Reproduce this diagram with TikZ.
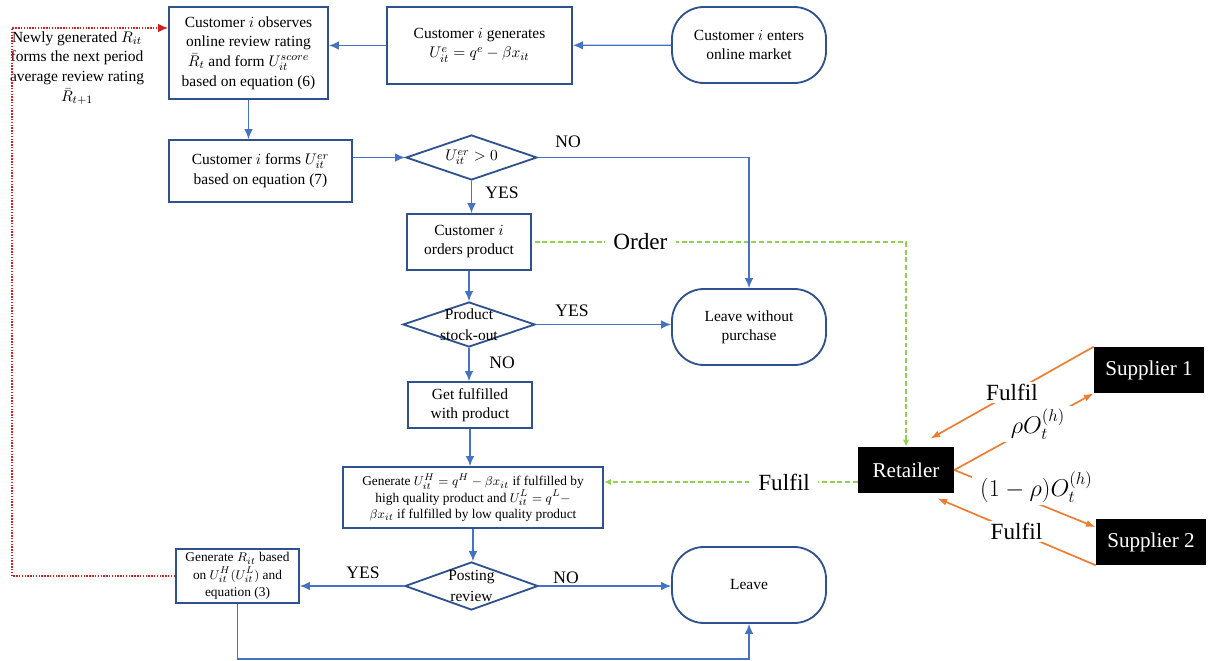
\documentclass[tikz,border=0pt]{standalone}
\usepackage{amsmath}
\usepackage{fontspec}
\setmainfont{Liberation Serif}
\usepackage{xcolor}
\usepackage{tikz}
\usetikzlibrary{positioning,calc,shapes.geometric}
\usetikzlibrary{arrows.meta}

\definecolor{lineblue}{HTML}{4472C4}
\definecolor{boxblue}{HTML}{2F528F}
\definecolor{ordergreen}{HTML}{92D050}
\definecolor{fulfilorange}{HTML}{ED7D31}
\definecolor{loopred}{HTML}{D02020}

\begin{document}
\begin{tikzpicture}[x=0.025cm,y=-0.025cm,
        every node/.style={align=center,font=\fontsize{11}{13.5}\selectfont},
        procbox/.style={rectangle,draw=boxblue,line width=1.3pt,inner sep=1pt},
        termbox/.style={rectangle,draw=boxblue,line width=1.3pt,rounded corners=0.8cm,minimum width=3.85cm,minimum height=1.9cm},
        decision/.style={diamond,draw=boxblue,line width=1.3pt,inner sep=0pt},
        decisiontext/.style={font=\fontsize{11}{15}\selectfont},
        blackbox/.style={rectangle,fill=black,text=white,font=\fontsize{15}{18}\selectfont,minimum height=1.15cm,minimum width=2.75cm},
        answer/.style={font=\fontsize{12.5}{15}\selectfont},
        biglabel/.style={fill=white,inner xsep=6pt,inner ysep=1.5pt,font=\fontsize{16.5}{20}\selectfont},
        flow/.style={draw=lineblue,line width=0.9pt,-{Latex[length=7pt,width=6pt]}},
        orderline/.style={draw=ordergreen,line width=1pt,dash pattern=on 3.5pt off 2pt,-{Latex[length=5pt,width=4.5pt]}},
        supplyline/.style={draw=fulfilorange,line width=1.2pt,-{Latex[length=7pt,width=5pt]}},
        feedbackline/.style={draw=loopred,line width=1pt,densely dotted,-{Latex[length=7pt,width=6pt]}}]
    \useasboundingbox (0,0) rectangle (1208,661);

    % customer side
    \node[termbox] (enter) at (749,45) {Customer $i$ enters\\online market};
    \node[procbox,minimum width=4.625cm,minimum height=1.925cm] (generate) at (479.5,45.5) {Customer $i$ generates\\$U_{it}^{e}=q^{e}-\beta x_{it}$};
    \node[procbox,minimum width=3.975cm,minimum height=2.3cm,font=\fontsize{11}{14}\selectfont] (observe) at (248.5,53) {Customer $i$ observes\\online review rating\\$\bar{R}_t$ and form $U_{it}^{score}$\\based on equation (6)};
    \node[font=\fontsize{11}{14}\selectfont] (newly) at (77,68) {Newly generated $R_{it}$\\forms the next period\\average review rating\\$\bar{R}_{t+1}$};
    \node[procbox,minimum width=4.575cm,minimum height=1.55cm,font=\fontsize{11}{14.5}\selectfont] (forms) at (260.5,171) {Customer $i$ forms $U_{it}^{er}$\\based on equation (7)};
    \node[decision,minimum width=3.275cm,minimum height=1.125cm,label={[decisiontext]center:$U_{it}^{er}>0$}] (check) at (471.5,157.5) {};
    \node[procbox,minimum width=3.1cm,minimum height=1.4cm] (orders) at (469,242) {Customer $i$\\orders product};
    \node[decision,minimum width=3.3cm,minimum height=1.125cm,label={[decisiontext]center:Product\\stock-out}] (stockout) at (469,324.5) {};
    \node[termbox] (leavewo) at (749,327) {Leave without\\purchase};
    \node[procbox,minimum width=3.1cm,minimum height=1.15cm] (fulfilled) at (470,405) {Get fulfilled\\with product};
    \node[procbox,minimum width=6.5cm,minimum height=1.525cm,font=\fontsize{9.5}{11.5}\selectfont] (utility) at (473,497.5) {Generate $U_{it}^{H}=q^{H}-\beta x_{it}$ if\ fulfilled by\\high quality product and $U_{it}^{L}=q^{L}-$\\$\beta x_{it}$ if fulfilled by low quality product};
    \node[decision,minimum width=3.325cm,minimum height=1.2cm,label={[decisiontext]center:Posting\\review}] (posting) at (471.5,586) {};
    \node[procbox,minimum width=3.075cm,minimum height=1.35cm,font=\fontsize{9.5}{12.3}\selectfont] (rating) at (237.5,576) {Generate $R_{it}$ based\\on $U_{it}^{H}(U_{it}^{L})$ and\\equation (3)};
    \node[termbox] (leave) at (749,585) {Leave};

    % supply side
    \node[blackbox,minimum width=2.4cm] (retailer) at (906,470) {Retailer};
    \node[blackbox] (supplier1) at (1149,370) {Supplier 1};
    \node[blackbox] (supplier2) at (1151,542) {Supplier 2};

    \node[answer] (nocheck) at (568,142) {NO};
    \node[answer] (yescheck) at (502,193) {YES};
    \node[answer] (yesstock) at (572,311) {YES};
    \node[answer] (nostock) at (502,363) {NO};
    \node[answer] (yespost) at (363,573) {YES};
    \node[answer] (nopost) at (566,578) {NO};

    \draw[flow] (enter) -- (generate);
    \draw[flow] (generate.west) -- (generate.west -| observe.east);
    \draw[flow] (observe.south) -- (observe.south |- forms.north);
    \draw[flow] (forms.east |- check.west) -- (check.west);
    \draw[flow] (check.east) -- (check.east -| leavewo.north) -- (leavewo.north);
    \draw[flow] (check.south) -- (check.south |- orders.north);
    \draw[flow] (orders.south) -- (orders.south |- stockout.north);
    \draw[flow] (stockout.east) -- (stockout.east -| leavewo.west);
    \draw[flow] (stockout.south) -- (stockout.south |- fulfilled.north);
    \draw[flow] (fulfilled.south) -- (fulfilled.south |- utility.north);
    \draw[flow] (utility.south) -- (utility.south |- posting.north);
    \draw[flow] (posting.west) -- (posting.west -| rating.east);
    \draw[flow] (posting.east) -- (posting.east -| leave.west);
    \draw[flow] (rating.south) -- ++(0,55) -| (leave.south);

    % review rating fed back to the next period
    \coordinate (loopcorner) at (12,28);
    \draw[feedbackline] (rating.west) -| (loopcorner) -- (loopcorner -| observe.west);

    \draw[orderline,shorten <=2pt] (orders.east) -- node[biglabel,pos=0.29] (orderlabel) {Order} (orders.east -| retailer.north) -- (retailer.north);
    \coordinate (fulfilstart) at ([yshift=-0.3cm]retailer.west);
    \draw[orderline] (fulfilstart) -- node[biglabel,pos=0.29] (fulfillabel) {Fulfil} (fulfilstart -| utility.east);

    \draw[supplyline] (supplier1.north west) -- node[biglabel] (fulfilone) {Fulfil} ([shift={(-24,-8)}]retailer.north east);
    \draw[supplyline] (retailer.east) -- node[biglabel,pos=0.6] (orderone) {$\rho O_t^{(h)}$} (supplier1.south west);
    \draw[supplyline] (retailer.east) -- node[biglabel,pos=0.58,yshift=0.4cm] (ordertwo) {$(1-\rho)O_t^{(h)}$} (supplier2.165);
    \draw[supplyline] (supplier2.south west) -- node[biglabel] (fulfiltwo) {Fulfil} ([shift={(-17,5)}]retailer.south east);
\end{tikzpicture}
\end{document}
